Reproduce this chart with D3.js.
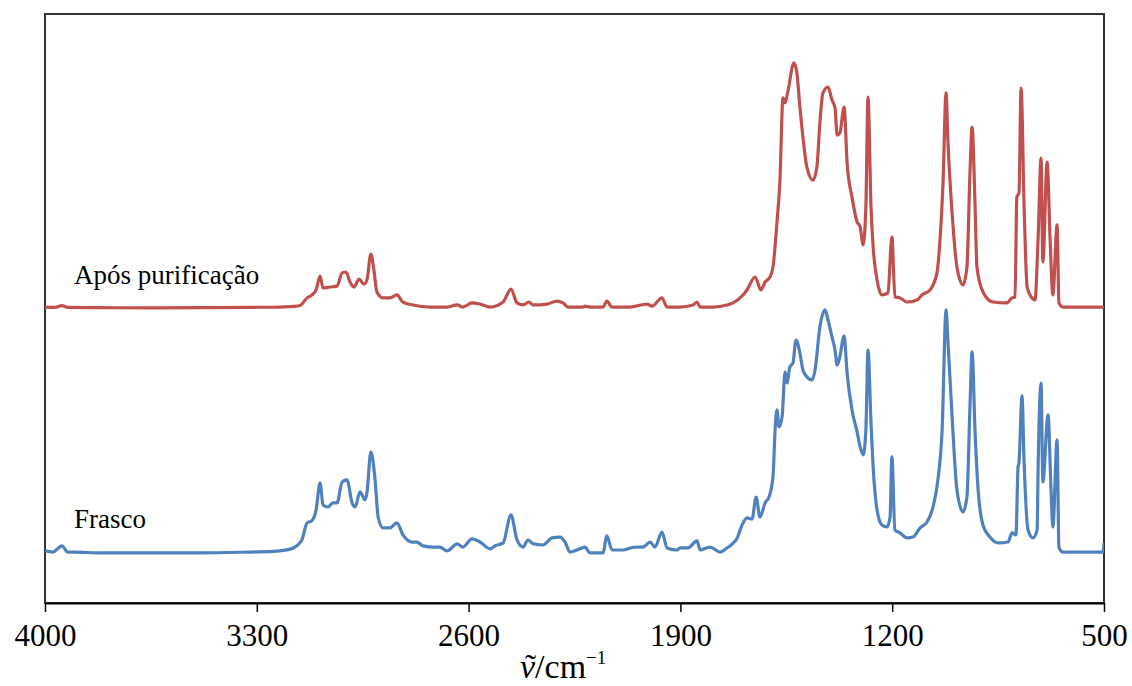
<!DOCTYPE html>
<html>
<head>
<meta charset="utf-8">
<script src="https://cdn.jsdelivr.net/npm/d3@7/dist/d3.min.js"></script>
<style>
  body { margin: 0; background: #fff; }
  text { font-family: "Liberation Serif", "Times New Roman", serif; fill: #000; }
</style>
</head>
<body>
<div id="chart"></div>
<script>
'use strict';

// Axis ticks (wavenumber, cm-1)
const xTicks = [4000, 3300, 2600, 1900, 1200, 500];

// Series names and vertical offsets (spectra are stacked)
const seriesNames = ['Após purificação', 'Frasco'];
const seriesOffsets = [1.0, 0.17];
const seriesColors = ['#C0504D', '#4F81BD'];

// Spectrum after purification (red)
const purifiedWavenumber = [4000, 3967, 3944, 3925, 3818, 3653, 3488, 3322, 3223, 3180, 3157, 3134, 3118, 3104, 3091, 3081, 3058, 3035, 3018, 3005, 2992, 2979, 2962, 2946, 2936, 2923, 2913, 2903, 2883, 2860, 2837, 2817, 2784, 2728, 2671, 2638, 2619, 2589, 2562, 2529, 2486, 2460, 2440, 2420, 2400, 2387, 2341, 2308, 2288, 2271, 2222, 2215, 2199, 2156, 2143, 2126, 2067, 2010, 1994, 1961, 1944, 1901, 1858, 1845, 1835, 1792, 1746, 1726, 1693, 1680, 1653, 1634, 1620, 1604, 1594, 1581, 1571, 1561, 1554, 1544, 1525, 1515, 1505, 1495, 1482, 1462, 1449, 1439, 1429, 1412, 1399, 1389, 1382, 1373, 1359, 1349, 1333, 1316, 1306, 1296, 1287, 1280, 1270, 1263, 1250, 1234, 1214, 1201, 1191, 1174, 1151, 1118, 1102, 1075, 1052, 1042, 1032, 1022, 1016, 1002, 986, 966, 953, 943, 936, 926, 920, 900, 867, 821, 804, 794, 788, 781, 774, 764, 754, 738, 728, 718, 708, 702, 688, 678, 669, 655, 649, 636, 556, 503, 500];
const purifiedAbsorbance = [0.005, 0.004, 0.010, 0.004, 0.003, 0.002, 0.003, 0.004, 0.005, 0.007, 0.010, 0.036, 0.046, 0.063, 0.110, 0.070, 0.073, 0.076, 0.121, 0.124, 0.090, 0.073, 0.100, 0.083, 0.097, 0.185, 0.131, 0.056, 0.036, 0.036, 0.046, 0.022, 0.012, 0.005, 0.005, 0.012, 0.005, 0.019, 0.015, 0.005, 0.022, 0.066, 0.019, 0.012, 0.022, 0.012, 0.015, 0.025, 0.019, 0.005, 0.005, 0.008, 0.005, 0.005, 0.025, 0.005, 0.005, 0.015, 0.008, 0.036, 0.005, 0.005, 0.012, 0.022, 0.005, 0.005, 0.012, 0.019, 0.046, 0.063, 0.107, 0.063, 0.090, 0.107, 0.141, 0.290, 0.436, 0.715, 0.698, 0.741, 0.834, 0.800, 0.684, 0.582, 0.480, 0.436, 0.480, 0.630, 0.732, 0.752, 0.708, 0.681, 0.589, 0.596, 0.684, 0.494, 0.379, 0.294, 0.277, 0.216, 0.345, 0.718, 0.345, 0.209, 0.097, 0.046, 0.053, 0.243, 0.039, 0.036, 0.022, 0.029, 0.046, 0.063, 0.121, 0.233, 0.426, 0.732, 0.572, 0.324, 0.141, 0.080, 0.141, 0.460, 0.616, 0.345, 0.141, 0.056, 0.022, 0.019, 0.036, 0.039, 0.379, 0.392, 0.748, 0.345, 0.073, 0.036, 0.029, 0.233, 0.511, 0.158, 0.497, 0.233, 0.046, 0.284, 0.019, 0.005, 0.005, 0.005, 0.008];

// Spectrum as received in the flask (blue)
const flaskWavenumber = [4000, 3974, 3944, 3925, 3900, 3818, 3653, 3488, 3322, 3246, 3223, 3180, 3151, 3134, 3118, 3104, 3091, 3081, 3065, 3048, 3035, 3018, 3002, 2985, 2975, 2959, 2942, 2936, 2923, 2909, 2899, 2883, 2860, 2837, 2817, 2787, 2771, 2751, 2718, 2695, 2671, 2638, 2619, 2589, 2562, 2529, 2513, 2486, 2460, 2440, 2420, 2404, 2387, 2354, 2324, 2298, 2281, 2265, 2242, 2215, 2199, 2156, 2143, 2126, 2090, 2050, 2024, 2000, 1984, 1961, 1944, 1911, 1901, 1875, 1845, 1835, 1802, 1769, 1746, 1732, 1713, 1696, 1680, 1663, 1650, 1637, 1620, 1607, 1594, 1587, 1581, 1574, 1564, 1554, 1548, 1538, 1528, 1518, 1505, 1495, 1482, 1465, 1455, 1439, 1422, 1412, 1399, 1389, 1382, 1373, 1359, 1349, 1333, 1316, 1306, 1296, 1287, 1280, 1270, 1263, 1250, 1234, 1217, 1207, 1201, 1191, 1174, 1151, 1131, 1108, 1085, 1065, 1049, 1035, 1022, 1016, 1002, 986, 966, 953, 943, 936, 926, 916, 900, 877, 850, 817, 804, 791, 784, 781, 771, 764, 751, 735, 721, 718, 708, 702, 685, 675, 669, 655, 649, 636, 590, 556, 520, 503, 500];
const flaskAbsorbance = [0.007, 0.003, 0.024, 0.003, 0.003, 0.000, 0.000, 0.000, 0.003, 0.005, 0.007, 0.017, 0.044, 0.102, 0.109, 0.146, 0.238, 0.163, 0.156, 0.170, 0.170, 0.241, 0.248, 0.170, 0.156, 0.207, 0.180, 0.204, 0.343, 0.248, 0.122, 0.085, 0.085, 0.102, 0.061, 0.037, 0.037, 0.024, 0.020, 0.020, 0.007, 0.031, 0.020, 0.048, 0.037, 0.014, 0.024, 0.034, 0.129, 0.044, 0.020, 0.044, 0.031, 0.027, 0.051, 0.054, 0.037, 0.003, 0.010, 0.020, 0.000, 0.000, 0.058, 0.010, 0.010, 0.020, 0.020, 0.037, 0.020, 0.071, 0.017, 0.010, 0.017, 0.017, 0.041, 0.010, 0.020, 0.003, 0.017, 0.027, 0.049, 0.095, 0.119, 0.115, 0.190, 0.122, 0.170, 0.190, 0.258, 0.418, 0.486, 0.428, 0.462, 0.615, 0.577, 0.632, 0.645, 0.723, 0.679, 0.621, 0.598, 0.587, 0.621, 0.767, 0.825, 0.791, 0.733, 0.689, 0.638, 0.666, 0.737, 0.611, 0.486, 0.411, 0.360, 0.333, 0.418, 0.689, 0.441, 0.292, 0.146, 0.095, 0.088, 0.122, 0.326, 0.078, 0.068, 0.051, 0.054, 0.085, 0.105, 0.156, 0.248, 0.418, 0.825, 0.723, 0.462, 0.214, 0.139, 0.190, 0.496, 0.683, 0.407, 0.214, 0.095, 0.054, 0.034, 0.037, 0.068, 0.061, 0.292, 0.306, 0.533, 0.306, 0.078, 0.051, 0.078, 0.272, 0.577, 0.241, 0.469, 0.214, 0.088, 0.384, 0.020, 0.003, 0.003, 0.003, 0.003, 0.003, 0.034];

// Layout
const width = 1132;
const height = 686;
const margin = { top: 14, right: 28, bottom: 83, left: 45 };
const innerWidth = width - margin.left - margin.right;
const innerHeight = height - margin.top - margin.bottom;

const svg = d3.select('#chart').append('svg')
  .attr('width', width)
  .attr('height', height);

const g = svg.append('g')
  .attr('transform', `translate(${margin.left}, ${margin.top})`);

// Wavenumber axis runs from high to low
const x = d3.scaleLinear().domain([4000, 500]).range([0, innerWidth]);
const y = d3.scaleLinear().domain([0, 2]).range([innerHeight, 0]);

// Plot frame
g.append('rect')
  .attr('width', innerWidth)
  .attr('height', innerHeight)
  .attr('fill', 'none')
  .attr('stroke', '#333')
  .attr('stroke-width', 2);

g.append('clipPath').attr('id', 'plot-clip')
  .append('rect').attr('width', innerWidth).attr('height', innerHeight);

// Build one spectrum from its arrays
const spectra = [
  { name: seriesNames[0], wn: purifiedWavenumber, ab: purifiedAbsorbance, offset: seriesOffsets[0], color: seriesColors[0] },
  { name: seriesNames[1], wn: flaskWavenumber, ab: flaskAbsorbance, offset: seriesOffsets[1], color: seriesColors[1] }
];

const line = d3.line()
  .curve(d3.curveMonotoneX)
  .x(d => x(d[0]))
  .y(d => y(d[1]));

spectra.forEach(s => {
  const pts = s.wn.map((w, i) => [w, s.ab[i] + s.offset]);
  g.append('path')
    .datum(pts)
    .attr('clip-path', 'url(#plot-clip)')
    .attr('fill', 'none')
    .attr('stroke', s.color)
    .attr('stroke-width', 3.2)
    .attr('stroke-linejoin', 'round')
    .attr('d', line);
  // Series label above the baseline
  g.append('text')
    .attr('x', 29)
    .attr('y', y(s.offset) - 25)
    .style('font-size', '27px')
    .text(s.name);
});

// X axis
const xAxis = g.append('g')
  .attr('transform', `translate(0, ${innerHeight})`)
  .call(d3.axisBottom(x).tickValues(xTicks).tickSize(9).tickSizeOuter(0).tickPadding(12).tickFormat(d3.format('d')));
xAxis.select('.domain').attr('stroke', '#000').attr('stroke-width', 2);
xAxis.selectAll('.tick line').attr('stroke', '#000').attr('stroke-width', 1.5);
xAxis.selectAll('.tick text')
  .attr('fill', '#000')
  .style('font-family', '"Liberation Serif", "Times New Roman", serif')
  .style('font-size', '31px');

// X axis title: italic nu with a tilde over it, per cm
const title = svg.append('text')
  .attr('x', 520)
  .attr('y', 678)
  .style('font-size', '34px');
const nu = title.append('tspan').style('font-style', 'italic').text('\u03BD');
const tilde = title.append('tspan').text('\u02DC');
const unit = title.append('tspan').text('/cm');
title.append('tspan').attr('dy', -14).style('font-size', '19px').text('\u22121');

// Pull the tilde back over the nu, then restore the pen position
const nuW = nu.node().getComputedTextLength();
const tildeW = tilde.node().getComputedTextLength();
tilde.attr('dx', -(nuW + tildeW) / 2 + 3);
unit.attr('dx', (nuW - tildeW) / 2 - 3);
</script>
</body>
</html>
